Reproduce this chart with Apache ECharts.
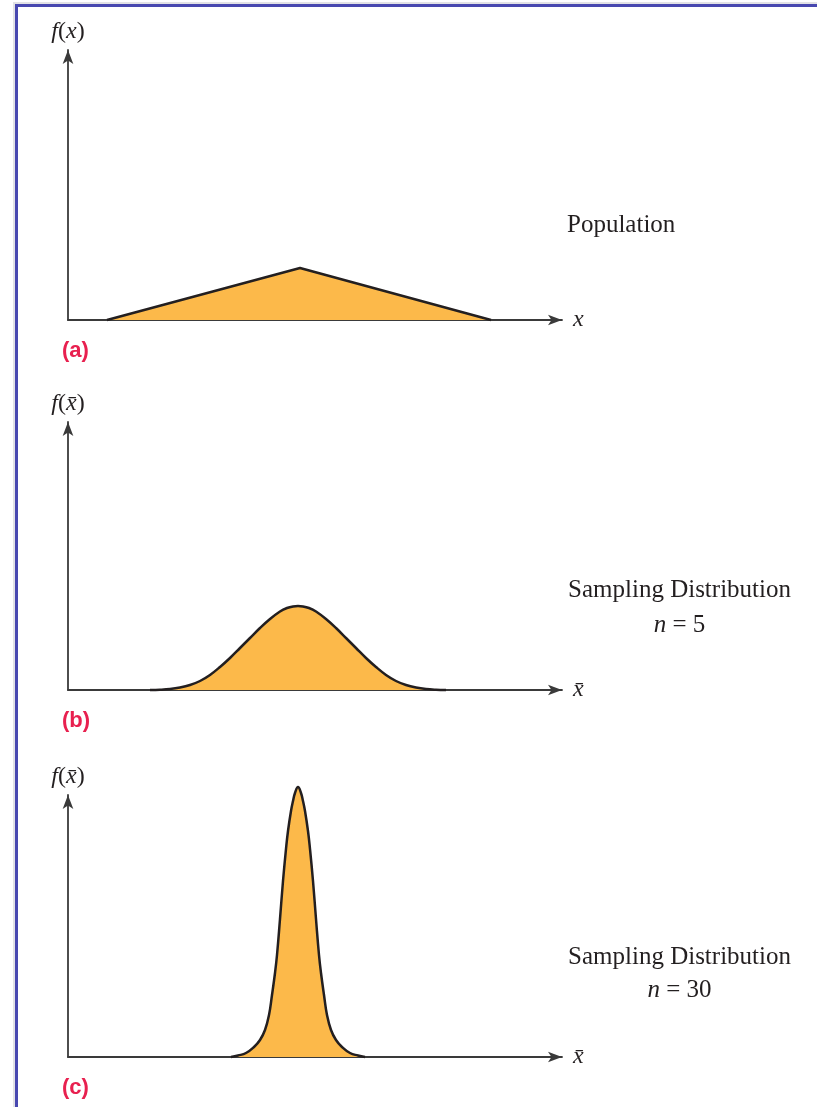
<!DOCTYPE html>
<html><head><meta charset="utf-8">
<script src="https://cdn.jsdelivr.net/npm/echarts@6/dist/echarts.min.js"></script>
<style>html,body{margin:0;padding:0;background:#fff}#c{width:817px;height:1107px}</style>
</head><body><div id="c"></div>
<script>
// Panel (a): population (triangular)
const popX = [39, 232, 423];
const popY = [0, 52, 0];
// Panel (b): sampling distribution n = 5
const n5X = [82, 92, 102, 112, 122, 132, 142, 152, 162, 172, 182, 192, 202, 212, 219, 225, 230, 235, 241, 248, 258, 268, 278, 288, 298, 308, 318, 328, 338, 348, 358, 368, 378];
const n5Y = [0, 0.3, 1, 2.5, 5, 9, 15, 23, 32, 42, 52, 62, 71, 78.5, 82, 83.6, 84, 83.6, 82, 78.5, 71, 62, 52, 42, 32, 23, 15, 9, 5, 2.5, 1, 0.3, 0];
// Panel (c): sampling distribution n = 30
const n30X = [163, 170, 178, 186, 192, 197, 201, 204, 207, 209, 212, 215, 218, 220, 223, 225, 227, 230, 233, 235, 237, 240, 242, 245, 248, 251, 253, 256, 259, 263, 268, 274, 282, 290, 297];
const n30Y = [0, 1.5, 4, 10, 17, 27, 42, 62, 84, 102, 138, 176, 208, 226, 246, 256, 264, 270, 264, 256, 246, 226, 208, 176, 138, 102, 84, 62, 42, 27, 17, 10, 4, 1.5, 0];
const xMax = 494;
const yMaxes = [270, 268, 262];

const serif = 'Liberation Serif';
const AX = '#3a3a3a';
function xAx(i, nm){return {gridIndex:i,type:'value',min:0,max:xMax,
  axisLine:{show:true,symbol:['none','arrow'],symbolSize:[8,14],lineStyle:{color:AX,width:1.8}},
  axisTick:{show:false},axisLabel:{show:false},splitLine:{show:false},
  name:nm,nameLocation:'end',nameGap:11,
  nameTextStyle:{fontFamily:serif,fontStyle:'italic',fontSize:24,color:'#231f20',verticalAlign:'middle'}};}
function yAx(i, nm){return {gridIndex:i,type:'value',min:0,max:yMaxes[i],
  axisLine:{show:true,symbol:['none','arrow'],symbolSize:[8,14],lineStyle:{color:AX,width:1.8}},
  axisTick:{show:false},axisLabel:{show:false},splitLine:{show:false},
  name:nm,nameLocation:'end',nameGap:6,
  nameTextStyle:{fontFamily:serif,fontSize:24,color:'#231f20',align:'center',
    rich:{i:{fontFamily:serif,fontStyle:'italic',fontSize:24,color:'#231f20'}}}};}
function ser(i, xs, ys, smooth){return {type:'line',xAxisIndex:i,yAxisIndex:i,
  data:xs.map((x,k)=>[x,ys[k]]),smooth:smooth,showSymbol:false,clip:false,
  lineStyle:{color:'#231f20',width:2.5},areaStyle:{color:'#fcb94a',opacity:1},z:3};}
function txt(x,y,t,extra){return Object.assign({type:'text',x:x,y:y,style:Object.assign({text:t,fontFamily:serif,fontSize:25,fill:'#231f20',verticalAlign:'middle'},extra||{})});}
function lab(y,t){return {type:'text',x:62,y:y,style:{text:t,fontFamily:'Liberation Sans',fontWeight:'bold',fontSize:22,fill:'#e8204f',verticalAlign:'middle'}};}

const opt = {
  animation:false,
  grid:[{left:68,top:50,right:255,height:270},{left:68,top:422,right:255,height:268},{left:68,top:795,right:255,height:262}],
  xAxis:[xAx(0,'x'),xAx(1,'x\u0304'),xAx(2,'x\u0304')],
  yAxis:[yAx(0,'{i|f}({i|x})'),yAx(1,'{i|f}({i|x\u0304})'),yAx(2,'{i|f}({i|x\u0304})')],
  series:[ser(0,popX,popY,false),ser(1,n5X,n5Y,0.4),ser(2,n30X,n30Y,0.45)],
  graphic:[
    {type:'rect',shape:{x:13,y:2,width:804,height:2},style:{fill:'#e2e2e6'}},
    {type:'rect',shape:{x:13,y:2,width:2,height:1105},style:{fill:'#e2e2e6'}},
    {type:'rect',shape:{x:15,y:4,width:802,height:3},style:{fill:'#4848b0'}},
    {type:'rect',shape:{x:15,y:4,width:3,height:1103},style:{fill:'#4848b0'}},
    txt(567,225,'Population'),
    txt(679.5,590,'Sampling Distribution',{align:'center'}),
    {type:'text',x:679.5,y:625,style:{text:'{i|n} = 5',rich:{i:{fontStyle:'italic',fontFamily:serif,fontSize:25,fill:'#231f20'}},fontFamily:serif,fontSize:25,fill:'#231f20',align:'center',verticalAlign:'middle'}},
    txt(679.5,957,'Sampling Distribution',{align:'center'}),
    {type:'text',x:679.5,y:990,style:{text:'{i|n} = 30',rich:{i:{fontStyle:'italic',fontFamily:serif,fontSize:25,fill:'#231f20'}},fontFamily:serif,fontSize:25,fill:'#231f20',align:'center',verticalAlign:'middle'}},
    lab(351,'(a)'),lab(721,'(b)'),lab(1088,'(c)')
  ]
};
echarts.init(document.getElementById('c')).setOption(opt);
</script></body></html>
